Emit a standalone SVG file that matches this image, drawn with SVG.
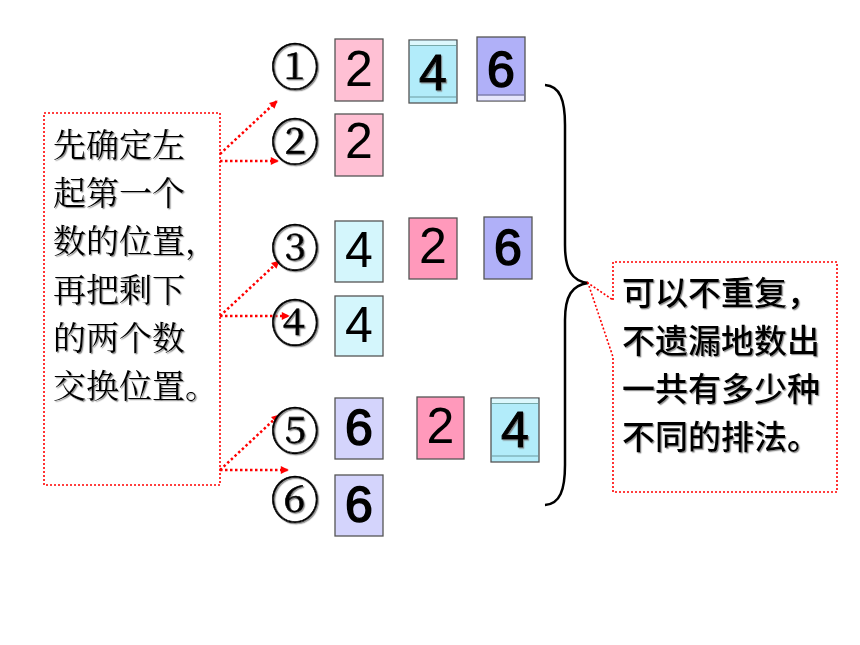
<svg xmlns="http://www.w3.org/2000/svg" width="860" height="645" viewBox="0 0 860 645">
<defs>
<filter id="sh" x="-10%" y="-10%" width="130%" height="130%">
<feDropShadow dx="1.2" dy="1.2" stdDeviation="0.6" flood-color="#777" flood-opacity="0.8"/>
</filter>
<marker id="ah" viewBox="0 0 10 10" refX="9" refY="5" markerWidth="9" markerHeight="8" markerUnits="userSpaceOnUse" orient="auto">
<path d="M0,0 L10,5 L0,10 Z" fill="#ff0000"/>
</marker>
</defs>
<style>
.box{fill:#fff;stroke:#ff0000;stroke-width:1.6;stroke-dasharray:2 2}
.conn{fill:none;stroke:#ff0000;stroke-width:2.5;stroke-dasharray:2.5 2.5}
.card{stroke:#555;stroke-width:1.3}
.dig{font-family:"Liberation Sans",Arial,sans-serif;font-size:50px;fill:#000;text-anchor:middle}
.b{stroke:#000;stroke-width:1.6}
.b2{stroke:#000;stroke-width:1.1}
.num{font-family:"Noto Serif CJK SC","Noto Sans CJK SC",serif;font-size:49px;fill:#000;stroke:#000;stroke-width:0.7;text-anchor:middle;dominant-baseline:central}
.lt{font-family:"Noto Serif CJK SC","Noto Sans CJK SC",serif;font-size:33px;fill:#000}
.rt{font-family:"Noto Sans CJK SC",sans-serif;font-size:33px;fill:#000;font-weight:500}
.pink{fill:#ffc0d4}
.pink2{fill:#ff99bb}
.cyan{fill:#b2ecfa}
.cyanl{fill:#d4f6fc}
.lav{fill:#b0b0f8}
.lavl{fill:#d4d4fc}
</style>

<g id="left-note">
<rect class="box" x="44" y="113" width="176" height="372"/>
<g filter="url(#sh)">
<text class="lt" x="53" y="157">先确定左</text>
<text class="lt" x="53" y="205">起第一个</text>
<text class="lt" x="53" y="253">数的位置，</text>
<text class="lt" x="53" y="302">再把剩下</text>
<text class="lt" x="53" y="350">的两个数</text>
<text class="lt" x="53" y="398">交换位置。</text>
</g>
</g>

<g id="connectors">
<line class="conn" x1="220" y1="154" x2="277" y2="101" marker-end="url(#ah)"/>
<line class="conn" x1="220" y1="161" x2="278" y2="161" marker-end="url(#ah)"/>
<line class="conn" x1="220" y1="316" x2="279" y2="261" marker-end="url(#ah)"/>
<line class="conn" x1="220" y1="316" x2="289" y2="316" marker-end="url(#ah)"/>
<line class="conn" x1="220" y1="470" x2="279" y2="415" marker-end="url(#ah)"/>
<line class="conn" x1="220" y1="470" x2="288" y2="470" marker-end="url(#ah)"/>
</g>

<g id="labels" filter="url(#sh)">
<text class="num" x="295" y="64">①</text>
<text class="num" x="295" y="139">②</text>
<text class="num" x="295" y="245">③</text>
<text class="num" x="295" y="320">④</text>
<text class="num" x="295" y="428">⑤</text>
<text class="num" x="295" y="497">⑥</text>
</g>

<g id="row1">
<rect class="card pink" x="335" y="39" width="48" height="62"/>
<text class="dig" x="359" y="86">2</text>
<rect class="card cyan" x="409" y="40" width="48" height="63"/>
<rect x="410" y="40.7" width="46" height="5" fill="#dcf8fd"/>
<line x1="410" y1="45.5" x2="456" y2="45.5" stroke="#7aa" stroke-width="1"/>
<line x1="410" y1="97" x2="456" y2="97" stroke="#6a9aa0" stroke-width="1.2"/>
<text class="dig b2" x="433" y="90" filter="url(#sh)">4</text>
<rect class="card lav" x="477" y="37" width="48" height="64"/>
<rect x="478" y="95.5" width="46" height="4.8" fill="#e6e6fb"/>
<line x1="478" y1="95" x2="524" y2="95" stroke="#668" stroke-width="1"/>
<text class="dig b" x="501" y="87">6</text>
</g>

<g id="row2">
<rect class="card pink" x="335" y="114" width="48" height="62"/>
<text class="dig" x="359" y="158">2</text>
</g>

<g id="row3">
<rect class="card cyanl" x="335" y="221" width="48" height="61"/>
<text class="dig" x="359" y="267">4</text>
<rect class="card pink2" x="409" y="218" width="48" height="61"/>
<text class="dig" x="433" y="263">2</text>
<rect class="card lav" x="484" y="217" width="48" height="62"/>
<text class="dig b" x="508" y="265">6</text>
</g>

<g id="row4">
<rect class="card cyanl" x="335" y="296" width="48" height="60"/>
<text class="dig" x="359" y="342">4</text>
</g>

<g id="row5">
<rect class="card lavl" x="335" y="398" width="48" height="61"/>
<text class="dig b" x="359" y="445">6</text>
<rect class="card pink2" x="417" y="397" width="47" height="62"/>
<text class="dig" x="440.5" y="443">2</text>
<rect class="card cyan" x="491" y="398" width="48" height="64"/>
<rect x="492" y="398.7" width="46" height="4.5" fill="#dcf8fd"/>
<line x1="492" y1="403.5" x2="538" y2="403.5" stroke="#7aa" stroke-width="1"/>
<line x1="492" y1="456" x2="538" y2="456" stroke="#6a9aa0" stroke-width="1.2"/>
<text class="dig b2" x="515" y="447" filter="url(#sh)">4</text>
</g>

<g id="row6">
<rect class="card lavl" x="335" y="475" width="48" height="61"/>
<text class="dig b" x="359" y="522">6</text>
</g>

<g id="brace">
<path d="M545,85 C560,86 565,100 565,125 L565,245 C565,270 572,281 588,283 C572,285 565,296 565,320 L565,465 C565,490 560,504 545,505" fill="none" stroke="#000" stroke-width="2.5"/>
</g>

<g id="right-note">
<path class="box" d="M613,300 L613,262 L837,262 L837,492 L613,492 L613,357 L588,283 Z"/>
<g filter="url(#sh)">
<text class="rt" x="622" y="305">可以不重复，</text>
<text class="rt" x="622" y="353">不遗漏地数出</text>
<text class="rt" x="622" y="401">一共有多少种</text>
<text class="rt" x="622" y="449">不同的排法。</text>
</g>
</g>
</svg>
